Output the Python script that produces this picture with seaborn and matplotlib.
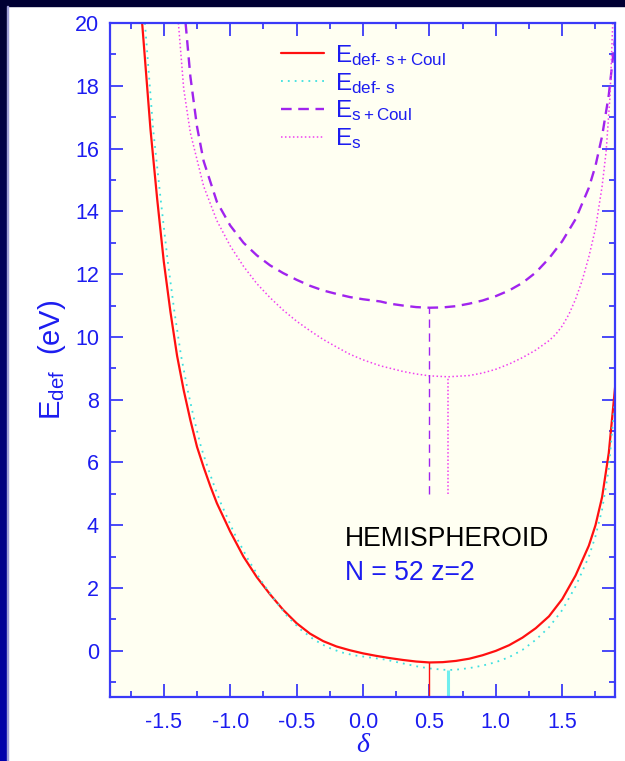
import numpy as np
import pandas as pd
import matplotlib
matplotlib.use("Agg")
import matplotlib.pyplot as plt
from matplotlib.lines import Line2D
from matplotlib.patches import Rectangle
from matplotlib.ticker import MultipleLocator
import seaborn as sns

# Deformation energy curves (delta, energy in eV)
d_def_s_coul = [-1.663, -1.60, -1.55, -1.50, -1.45, -1.40, -1.35, -1.30, -1.25, -1.20, -1.15,
                -1.10, -1.00, -0.90, -0.80, -0.70, -0.60, -0.50, -0.40, -0.30, -0.20, -0.10,
                0.00, 0.10, 0.20, 0.30, 0.40, 0.50, 0.60, 0.70, 0.80, 0.90,
                1.00, 1.10, 1.20, 1.30, 1.40, 1.50, 1.60, 1.70, 1.75, 1.80, 1.85, 1.90]
e_def_s_coul = [20.0, 16.6, 14.4, 12.4, 10.8, 9.4, 8.3, 7.35, 6.5, 5.85, 5.25,
                4.7, 3.8, 3.0, 2.35, 1.8, 1.3, 0.88, 0.55, 0.31, 0.14, 0.02,
                -0.08, -0.16, -0.23, -0.29, -0.34, -0.37, -0.36, -0.32, -0.25, -0.14,
                0.0, 0.18, 0.42, 0.72, 1.1, 1.65, 2.4, 3.35, 4.0, 4.9, 6.3, 8.5]

d_def_s = [-1.642, -1.58, -1.524, -1.47, -1.42, -1.37, -1.32, -1.27, -1.22, -1.17, -1.12,
           -1.07, -0.97, -0.87, -0.77, -0.67, -0.57, -0.47, -0.37, -0.27, -0.17, -0.07,
           0.05, 0.17, 0.30, 0.40, 0.50, 0.60, 0.643, 0.70, 0.80, 0.90,
           1.00, 1.10, 1.20, 1.30, 1.40, 1.50, 1.60, 1.70, 1.75, 1.80, 1.85, 1.90]
e_def_s = [20.0, 16.6, 14.4, 12.4, 10.8, 9.4, 8.3, 7.35, 6.5, 5.85, 5.25,
           4.7, 3.75, 2.95, 2.25, 1.65, 1.1, 0.68, 0.36, 0.12, -0.04, -0.14,
           -0.21, -0.28, -0.40, -0.49, -0.56, -0.60, -0.61, -0.60, -0.55, -0.47,
           -0.36, -0.2, 0.03, 0.35, 0.75, 1.3, 2.05, 3.0, 3.65, 4.5, 5.8, 8.2]

d_s_coul = [-1.336, -1.30, -1.25, -1.20, -1.10, -1.00, -0.90, -0.80, -0.70, -0.60,
            -0.50, -0.40, -0.30, -0.20, -0.10, 0.00, 0.13, 0.20, 0.30, 0.40,
            0.50, 0.60, 0.70, 0.80, 0.90, 1.00, 1.10, 1.20, 1.30, 1.40,
            1.50, 1.60, 1.70, 1.75, 1.80, 1.85, 1.90]
e_s_coul = [20.0, 18.3, 16.7, 15.6, 14.3, 13.55, 13.0, 12.6, 12.28, 12.03,
            11.82, 11.63, 11.48, 11.37, 11.27, 11.2, 11.13, 11.06, 11.0, 10.95,
            10.93, 10.94, 10.98, 11.06, 11.16, 11.3, 11.48, 11.72, 12.05, 12.5,
            13.05, 13.75, 14.75, 15.45, 16.4, 17.7, 19.6]

d_s = [-1.39, -1.35, -1.30, -1.20, -1.10, -1.00, -0.90, -0.80, -0.70, -0.60,
       -0.50, -0.40, -0.30, -0.20, -0.10, 0.00, 0.13, 0.30, 0.40, 0.50,
       0.641, 0.80, 0.90, 1.00, 1.107, 1.20, 1.30, 1.40, 1.45, 1.50,
       1.55, 1.60, 1.65, 1.70, 1.75, 1.80, 1.83, 1.86, 1.88]
e_s = [20.0, 17.9, 16.5, 14.8, 13.7, 12.9, 12.25, 11.7, 11.25, 10.85,
       10.5, 10.2, 9.92, 9.68, 9.45, 9.27, 9.08, 8.9, 8.82, 8.76,
       8.73, 8.77, 8.85, 8.97, 9.15, 9.34, 9.58, 9.88, 10.08, 10.35,
       10.72, 11.2, 11.8, 12.55, 13.45, 14.8, 15.9, 17.7, 20.0]

# Equilibrium deformations (minimum of each curve)
min_delta = {"def_s_coul": 0.50, "def_s": 0.643, "s_coul": 0.50, "s": 0.641}
min_energy = {"def_s_coul": -0.37, "def_s": -0.61, "s_coul": 10.93, "s": 8.73}
guide_floor = 5.0

x_ticks = [-1.5, -1.0, -0.5, 0.0, 0.5, 1.0, 1.5]
y_ticks = [0, 2, 4, 6, 8, 10, 12, 14, 16, 18, 20]
x_limits = (-1.905, 1.897)
y_limits = (-1.47, 20.0)

BLUE = "#1c1cf0"
SPINE = "#3a3af8"
RED = "#ff1010"
CYAN = "#3fe0e0"
PURPLE = "#a024ee"
MAGENTA = "#f040f0"

sns.set_theme(style="ticks")
plt.rcParams["font.family"] = ["Liberation Sans", "DejaVu Sans"]
plt.rcParams["mathtext.fontset"] = "custom"
plt.rcParams["mathtext.rm"] = "Liberation Sans"
plt.rcParams["mathtext.it"] = "Liberation Sans:italic"
plt.rcParams["mathtext.bf"] = "Liberation Sans:bold"

fig = plt.figure(figsize=(6.25, 7.61), dpi=100, facecolor="white")

# dark frame strips on the left and top edges
strip = fig.add_axes([0, 0, 7.3 / 625, 1])
grad = np.linspace(0, 1, 256).reshape(-1, 1)
cmap = matplotlib.colors.LinearSegmentedColormap.from_list("navy", ["#000030", "#0000ac"])
strip.imshow(grad, aspect="auto", cmap=cmap, origin="upper")
strip.set_axis_off()
fig.patches.append(Rectangle((0, 1 - 6 / 761), 1, 6 / 761, transform=fig.transFigure,
                             color="#000033", zorder=5))
fig.patches.append(Rectangle((7.3 / 625, 0), 1.0 / 625, 1 - 6 / 761, transform=fig.transFigure,
                             color="#a0a0d8", zorder=5))

ax = fig.add_axes([110 / 625, 64 / 761, 505 / 625, 674 / 761])
ax.set_facecolor("#fffff2")

curves = [
    (d_def_s_coul, e_def_s_coul, dict(color=RED, lw=1.6, linestyle="-")),
    (d_def_s, e_def_s, dict(color=CYAN, lw=1.3, linestyle=(0, (1, 2.8)))),
    (d_s_coul, e_s_coul, dict(color=PURPLE, lw=1.7, linestyle=(0, (4.5, 2.8)))),
    (d_s, e_s, dict(color=MAGENTA, lw=1.1, linestyle=(0, (1, 1.6)))),
]
for dx, ey, kw in curves:
    df = pd.DataFrame({"delta": dx, "E": ey})
    sns.lineplot(data=df, x="delta", y="E", ax=ax, sort=False, estimator=None, **kw)

# vertical guides at the equilibrium deformations
ax.vlines(min_delta["def_s_coul"], y_limits[0], min_energy["def_s_coul"], color=RED, lw=1.0)
ax.vlines(min_delta["def_s"], y_limits[0], min_energy["def_s"], color="#70eeee", lw=2.2)
ax.vlines(min_delta["s_coul"], guide_floor, min_energy["s_coul"], color=PURPLE, lw=1.0,
          linestyles=[(0, (6, 4))])
ax.vlines(min_delta["s"], guide_floor, min_energy["s"], color=MAGENTA, lw=1.1,
          linestyles=[(0, (1, 1.4))])

ax.set_xlim(*x_limits)
ax.set_ylim(*y_limits)
ax.set_xticks(x_ticks)
ax.set_xticklabels([f"{v:.1f}" for v in x_ticks])
ax.set_yticks(y_ticks)
ax.xaxis.set_minor_locator(MultipleLocator(0.25))
ax.yaxis.set_minor_locator(MultipleLocator(1))
ax.tick_params(which="both", direction="in", top=True, right=True, color=SPINE, width=1.3)
ax.tick_params(which="major", length=9.5, labelsize=15.5, labelcolor=BLUE)
ax.tick_params(axis="y", which="major", pad=8)
ax.tick_params(axis="x", which="major", pad=11)
ax.tick_params(which="minor", length=4.5)
for sp in ax.spines.values():
    sp.set_color(SPINE)
    sp.set_linewidth(1.6)

ax.set_xlabel("δ", fontsize=20, color=BLUE, family="Liberation Serif", style="italic", labelpad=0)
ax.set_ylabel(r"E$_{\mathrm{def}}$  (eV)", fontsize=21, color=BLUE, labelpad=5)

handles = [Line2D([], [], **kw) for _, _, kw in curves]
labels = [r"E$_{\mathrm{def‐\ s\:+\:Coul}}$", r"E$_{\mathrm{def‐\ s}}$",
          r"E$_{\mathrm{s\:+\:Coul}}$", r"E$_{\mathrm{s}}$"]
leg = ax.legend(handles, labels, loc="upper left", bbox_to_anchor=(0.32, 0.985),
                frameon=False, fontsize=17.5, handlelength=1.75, handletextpad=0.45,
                labelspacing=0.12, borderaxespad=0.0)
for t in leg.get_texts():
    t.set_color(BLUE)

ax.text(-0.133, 3.35, "HEMISPHEROID", fontsize=19.1, color="black")
ax.text(-0.133, 2.26, "N = 52 z=2", fontsize=19.1, color=BLUE)

fig.savefig("out.png", dpi=100, facecolor="white")
